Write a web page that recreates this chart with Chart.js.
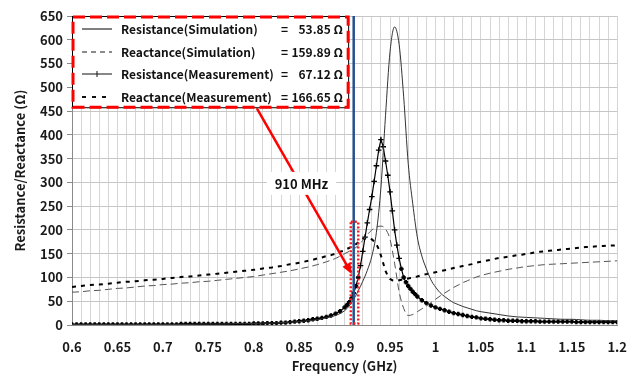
<!DOCTYPE html>
<html><head><meta charset="utf-8">
<script src="https://cdn.jsdelivr.net/npm/chart.js@4/dist/chart.umd.min.js"></script>
<style>html,body{margin:0;padding:0;background:#fff}</style>
</head><body>
<canvas id="c" width="641" height="376"></canvas>
<script>
// ---------- DATA ----------
const simFreq = [0.60,0.61,0.62,0.63,0.64,0.65,0.66,0.67,0.68,0.69,0.70,0.71,0.72,0.73,0.74,0.75,0.76,0.77,0.78,0.79,0.80,0.81,0.82,0.83,0.84,0.85,0.86,0.87,0.88,0.89,
  0.900,0.905,0.910,0.915,0.920,0.925,0.930,0.935,0.940,0.945,0.950,0.955,0.960,0.965,0.970,0.975,0.980,0.985,0.990,0.995,1.000,1.005,1.010,1.015,1.020,1.025,1.030,1.035,1.040,1.045,1.050,
  1.06,1.07,1.08,1.09,1.10,1.11,1.12,1.13,1.14,1.15,1.16,1.17,1.18,1.19,1.20];
const simResistance = [1,1,1,1,1,1,1,1,1,1,1,1,1,1,2,2,2,2,3,3,3,4,4,5,6,7,9,11,15,20,
  30,40,54,72,92,115,145,195,290,440,575,627,590,480,340,255,185,145,118,95,80,68,60,53,47,43,39,36,33,30,28,
  25,22,19,17,16,15,14,13,12,12,11,10,10,9,9];
const simReactance = [69,70,72,73,75,77,78,80,82,83,85,86,88,89,91,92,94,96,98,100,102,105,108,111,114,118,122,127,133,140,
  150,155,160,167,178,190,200,206,208,202,180,130,70,35,20,22,28,34,40,47,54,61,67,73,79,84,89,93,97,101,104,
  109,113,117,120,123,125,127,128,129,130,131,132,133,134,135];

const measFreq = [0.600,0.605,0.610,0.615,0.620,0.625,0.630,0.635,0.640,0.645,0.650,0.655,0.660,0.665,0.670,0.675,0.680,0.685,0.690,0.695,
  0.700,0.705,0.710,0.715,0.720,0.725,0.730,0.735,0.740,0.745,0.750,0.755,0.760,0.765,0.770,0.775,0.780,0.785,0.790,0.795,
  0.800,0.805,0.810,0.815,0.820,0.825,0.830,0.835,0.840,0.845,0.850,0.855,0.860,0.865,0.870,0.875,0.880,0.885,0.890,0.895,0.900,
  0.9025,0.905,0.9075,0.910,0.9125,0.915,0.9175,0.920,0.9225,0.925,0.9275,0.930,0.9325,0.935,0.9375,0.940,0.9425,0.945,0.9475,0.950,
  0.9525,0.955,0.9575,0.960,0.9625,0.965,0.9675,0.970,0.9725,0.975,0.9775,0.980,
  0.985,0.990,0.995,1.000,1.005,1.010,1.015,1.020,1.025,1.030,1.035,1.040,1.045,1.050,1.055,1.060,1.065,1.070,1.075,1.080,1.085,1.090,1.095,1.100,
  1.105,1.110,1.115,1.120,1.125,1.130,1.135,1.140,1.145,1.150,1.155,1.160,1.165,1.170,1.175,1.180,1.185,1.190,1.195,1.200];
const measResistance = [1,1,1,1,1,1,1,1,1,1,1,1,1,1,1,1,1,1,1,1,
  1,1,1,1,2,2,2,2,2,2,2,2,2,2,2,2,2,2,2,2,
  3,3,3,4,4,4,5,5,6,7,8,9,10,12,13,15,17,20,24,29,37,
  42,48,56,67,82,100,125,155,185,215,243,270,302,335,368,390,375,345,315,280,
  240,200,168,140,118,100,90,82,76,70,65,60,
  52,46,41,37,34,31,28,25,23,21,19,17,16,14,13,12,11,10,10,9,9,9,8,8,
  8,8,7,7,7,7,7,7,7,7,6,6,6,6,6,6,6,6,6,6];
const measReactance = [80,81,82,83,84,85,85,86,87,88,89,90,91,91,92,93,94,95,95,96,
  97,98,99,100,101,102,102,103,104,105,106,107,108,109,110,111,112,113,114,115,
  116,117,119,120,121,123,124,126,128,129,131,133,135,137,140,142,145,147,150,154,157,
  160,162,165,167,170,174,178,181,183,184,183,180,176,170,160,146,130,114,103,97,
  94,93,93,94,95,96,97,98,99,100,101,102,
  105,107,109,111,113,115,117,120,122,124,126,128,131,133,135,137,139,141,142,144,145,147,148,150,
  151,153,154,155,156,157,158,159,160,161,162,163,164,164,165,166,166,167,167,168];

const seriesNames = ['Resistance(Simulation)','Reactance(Simulation)','Resistance(Measurement)','Reactance(Measurement)'];
const seriesAt910 = ['53.85','159.89','67.12','166.65'];
const xTickValues = [0.6,0.65,0.7,0.75,0.8,0.85,0.9,0.95,1,1.05,1.1,1.15,1.2];
const markerFreq = 0.91;
const markerLabel = '910 MHz';

// ---------- CHART ----------
const FONT = '"Noto Sans CJK KR","Noto Sans",sans-serif';
const pts = (xs, ys) => xs.map((x, i) => ({x, y: ys[i]}));

const annot = {
  id: 'annot',
  afterDatasetsDraw(chart) {
    const ctx = chart.ctx, xs = chart.scales.x, ys = chart.scales.y, ca = chart.chartArea;
    ctx.save();
    // blue marker line at 910 MHz
    const bx = xs.getPixelForValue(markerFreq);
    ctx.strokeStyle = '#24508f'; ctx.lineWidth = 2.5;
    ctx.beginPath(); ctx.moveTo(bx, ca.top); ctx.lineTo(bx, ca.bottom); ctx.stroke();
    // red dotted rectangle
    const rx0 = xs.getPixelForValue(0.9068), rx1 = xs.getPixelForValue(0.9150);
    const ry0 = ys.getPixelForValue(217), ry1 = ys.getPixelForValue(3);
    ctx.strokeStyle = '#ff1a1a'; ctx.lineWidth = 2.5; ctx.setLineDash([2, 2]);
    ctx.strokeRect(rx0, ry0, rx1 - rx0, ry1 - ry0);
    ctx.setLineDash([]);
    // arrow
    const ax0 = xs.getPixelForValue(0.8033), ay0 = ys.getPixelForValue(456);
    const ax1 = xs.getPixelForValue(0.908), ay1 = ys.getPixelForValue(107);
    const ang = Math.atan2(ay1 - ay0, ax1 - ax0);
    ctx.strokeStyle = '#ff0000'; ctx.fillStyle = '#ff0000'; ctx.lineWidth = 2.5;
    ctx.beginPath(); ctx.moveTo(ax0, ay0);
    ctx.lineTo(ax1 - 8 * Math.cos(ang), ay1 - 8 * Math.sin(ang)); ctx.stroke();
    ctx.beginPath(); ctx.moveTo(ax1, ay1);
    ctx.lineTo(ax1 - 11 * Math.cos(ang) + 4.5 * Math.sin(ang), ay1 - 11 * Math.sin(ang) - 4.5 * Math.cos(ang));
    ctx.lineTo(ax1 - 11 * Math.cos(ang) - 4.5 * Math.sin(ang), ay1 - 11 * Math.sin(ang) + 4.5 * Math.cos(ang));
    ctx.closePath(); ctx.fill();
    // 910 MHz label
    const lx = xs.getPixelForValue(0.8525), ly = ys.getPixelForValue(299);
    ctx.font = 'bold 13px ' + FONT;
    const tw = ctx.measureText(markerLabel).width;
    ctx.fillStyle = '#fff'; ctx.fillRect(lx - tw / 2 - 8, ly - 11, tw + 16, 23);
    ctx.fillStyle = '#111'; ctx.textAlign = 'center'; ctx.textBaseline = 'middle';
    ctx.fillText(markerLabel, lx, ly + 1);
    // legend box
    const L = xs.getPixelForValue(0.6), R = xs.getPixelForValue(0.905);
    const T = ys.getPixelForValue(650), B = ys.getPixelForValue(456);
    ctx.fillStyle = '#fff'; ctx.fillRect(L, T, R - L, B - T);
    ctx.strokeStyle = '#000'; ctx.lineWidth = 1; ctx.strokeRect(L + 0.5, T + 0.5, R - L - 1, B - T - 1);
    ctx.strokeStyle = '#ff0000'; ctx.lineWidth = 3; ctx.setLineDash([12, 5]);
    ctx.strokeRect(L + 1, T + 1, R - L - 2, B - T - 2);
    ctx.setLineDash([]);
    const rows = [13, 36, 58, 81];
    const styles = [
      {c: '#555', w: 1.5, d: []},
      {c: '#666', w: 1.5, d: [5, 4]},
      {c: '#111', w: 1, d: []},
      {c: '#111', w: 2, d: [4, 6]}
    ];
    ctx.font = 'bold 12px ' + FONT; ctx.textBaseline = 'middle';
    rows.forEach((dy, i) => {
      const y = T + dy;
      const s = styles[i];
      ctx.strokeStyle = s.c; ctx.lineWidth = s.w; ctx.setLineDash(s.d);
      ctx.beginPath(); ctx.moveTo(L + 10, y); ctx.lineTo(L + 40, y); ctx.stroke();
      ctx.setLineDash([]);
      if (i === 2) {
        ctx.beginPath(); ctx.moveTo(L + 25, y - 3); ctx.lineTo(L + 25, y + 3); ctx.stroke();
      }
      ctx.fillStyle = '#111';
      ctx.textAlign = 'left'; ctx.fillText(seriesNames[i], L + 49, y);
      ctx.fillText('=', L + 209, y);
      ctx.textAlign = 'right'; ctx.fillText(seriesAt910[i] + ' \u03A9', L + 271, y);
    });
    ctx.restore();
  }
};

new Chart(document.getElementById('c'), {
  type: 'line',
  data: {
    datasets: [
      {label: seriesNames[0], data: pts(simFreq, simResistance), borderColor: '#333', borderWidth: 1,
       pointRadius: 0, cubicInterpolationMode: 'monotone'},
      {label: seriesNames[1], data: pts(simFreq, simReactance), borderColor: '#555', borderWidth: 1,
       borderDash: [7, 4], pointRadius: 0, cubicInterpolationMode: 'monotone'},
      {label: seriesNames[2], data: pts(measFreq, measResistance), borderColor: '#000', borderWidth: 1.2,
       pointStyle: 'cross', pointBorderColor: '#000', pointBackgroundColor: '#000',
       pointRadius: c => (c.raw && c.raw.y < 120 ? 2.2 : 2.8),
       pointBorderWidth: c => (c.raw && c.raw.y < 120 ? 2.4 : 1.3)},
      {label: seriesNames[3], data: pts(measFreq, measReactance), borderColor: '#000', borderWidth: 2,
       borderDash: [4, 5], pointRadius: 0}
    ]
  },
  options: {
    responsive: false, animation: false, devicePixelRatio: 1,
    layout: {padding: {top: 16, right: 20, left: 0, bottom: 0}},
    plugins: {legend: {display: false}, tooltip: {enabled: false}},
    scales: {
      x: {
        type: 'linear', min: 0.6, max: 1.2,
        afterFit(s) { s.height = 51; },
        grid: {color: '#d6d6d6', lineWidth: 1, drawTicks: false},
        border: {color: '#8a8a8a', width: 1},
        ticks: {
          stepSize: 0.01, autoSkip: false, maxRotation: 0, minRotation: 0, padding: 14,
          color: '#1a1a1a', font: {family: FONT, size: 13, weight: 'bold'},
          callback(v) {
            const r = Math.round(v * 100) / 100;
            return xTickValues.some(t => Math.abs(t - r) < 1e-9) ? String(r) : '';
          }
        },
        title: {display: true, text: 'Frequency (GHz)', color: '#1a1a1a',
                font: {family: FONT, size: 13, weight: 'bold'}, padding: {top: 0, bottom: 2}}
      },
      y: {
        min: 0, max: 650,
        afterFit(s) { s.width = 72; },
        grid: {color: '#c6c6c6', lineWidth: 1, tickLength: 5, tickColor: '#8a8a8a'},
        border: {color: '#8a8a8a', width: 1},
        ticks: {stepSize: 50, padding: 4, color: '#1a1a1a', font: {family: FONT, size: 13, weight: 'bold'}},
        title: {display: true, text: 'Resistance/Reactance (\u03A9)', color: '#1a1a1a',
                font: {family: FONT, size: 13, weight: 'bold'}, padding: {top: 12, bottom: 0}}
      }
    }
  },
  plugins: [annot]
});
</script>
</body></html>
